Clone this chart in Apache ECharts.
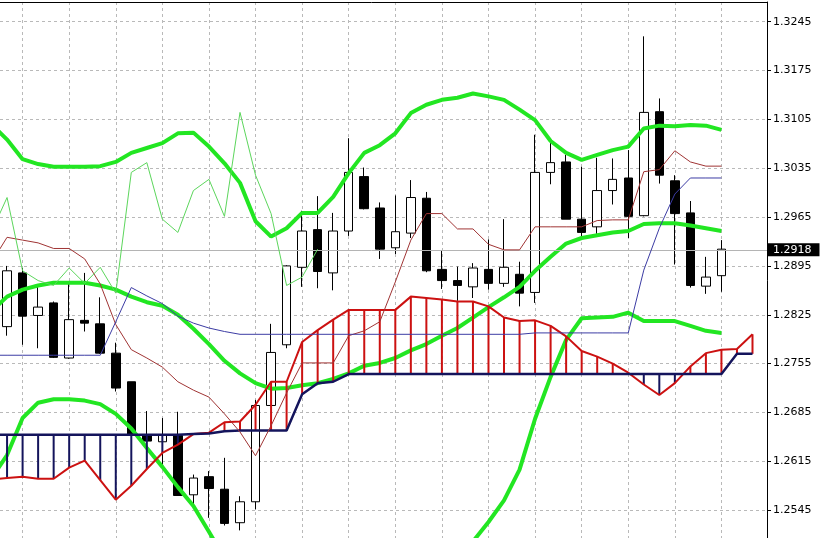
<!DOCTYPE html>
<html><head><meta charset="utf-8">
<script src="https://cdn.jsdelivr.net/npm/echarts@6/dist/echarts.min.js"></script>
<style>
html,body{margin:0;padding:0;background:#fff;width:820px;height:538px;overflow:hidden;position:relative}
#c{position:absolute;left:-24px;top:0;width:844px;height:559px}
</style>
</head><body><div id="c"></div>
<script>
// ---- candle data (bar 0 .. 46) ----
const openP  = [1.2808,1.2885,1.2824,1.2842,1.2763,1.2817,1.2812,1.2770,1.2729,1.2653,1.2643,1.2652,1.2567,1.2593,1.2575,1.2527,1.2557,1.2695,1.2782,1.2893,1.2947,1.2885,1.2945,1.3023,1.2978,1.2921,1.2942,1.2992,1.2890,1.2874,1.2865,1.2890,1.2870,1.2883,1.2857,1.3029,1.3044,1.2962,1.2951,1.3003,1.3021,1.2967,1.3116,1.3017,1.2971,1.2866,1.2881];
const closeP = [1.2888,1.2823,1.2836,1.2764,1.2818,1.2813,1.2770,1.2720,1.2653,1.2644,1.2652,1.2566,1.2591,1.2576,1.2526,1.2557,1.2695,1.2771,1.2895,1.2945,1.2887,1.2945,1.3029,1.2977,1.2919,1.2944,1.2993,1.2888,1.2874,1.2867,1.2892,1.2870,1.2893,1.2856,1.3029,1.3043,1.2962,1.2943,1.3003,1.3019,1.2966,1.3115,1.3025,1.2970,1.2867,1.2879,1.2919];
const lowP   = [1.2795,1.2782,1.2777,1.2763,1.2762,1.2801,1.2769,1.2715,1.2653,1.2643,1.2607,1.2566,1.2551,1.2534,1.2523,1.2516,1.2546,1.2694,1.2777,1.2865,1.2863,1.2860,1.2938,1.2976,1.2905,1.2912,1.2935,1.2886,1.2862,1.2845,1.2849,1.2861,1.2865,1.2837,1.2842,1.3012,1.2962,1.2936,1.2941,1.2983,1.2935,1.2966,1.3013,1.2897,1.2864,1.2855,1.2858];
const highP  = [1.2895,1.2892,1.2865,1.2844,1.2869,1.2885,1.2850,1.2785,1.2729,1.2687,1.2677,1.2686,1.2596,1.2601,1.2620,1.2565,1.2703,1.2812,1.2896,1.2974,1.2995,1.2971,1.3078,1.3036,1.2986,1.2996,1.3018,1.3001,1.2917,1.2894,1.2899,1.2933,1.2962,1.2901,1.3083,1.3071,1.3054,1.3037,1.3050,1.3049,1.3061,1.3224,1.3135,1.3025,1.2988,1.2908,1.2932];

// ---- indicator lines (start one bar earlier, at bar -1, so they reach the left edge) ----
const indStart = -1;
const bbUpper  = [1.3098,1.3076,1.3048,1.3041,1.3037,1.3037,1.3037,1.3038,1.3044,1.3057,1.3064,1.3071,1.3085,1.3086,1.3066,1.3042,1.3014,1.2959,1.2937,1.2949,1.2971,1.2971,1.2994,1.3028,1.3057,1.3068,1.3085,1.3114,1.3126,1.3133,1.3136,1.3142,1.3138,1.3133,1.3119,1.3104,1.3074,1.3057,1.3047,1.3054,1.3061,1.3066,1.3092,1.3096,1.3095,1.3097,1.3096,1.3090];
const bbMiddle = [1.2830,1.2851,1.2861,1.2867,1.2871,1.2871,1.2871,1.2867,1.2861,1.2851,1.2843,1.2838,1.2825,1.2805,1.2783,1.2759,1.2741,1.2727,1.2719,1.2720,1.2724,1.2727,1.2733,1.2741,1.2752,1.2756,1.2763,1.2774,1.2783,1.2795,1.2806,1.2821,1.2836,1.2850,1.2865,1.2888,1.2908,1.2927,1.2935,1.2939,1.2943,1.2945,1.2955,1.2956,1.2956,1.2953,1.2949,1.2945];
const bbLower  = [1.2591,1.2624,1.2677,1.2699,1.2704,1.2704,1.2702,1.2697,1.2683,1.2662,1.2634,1.2607,1.2578,1.2551,1.2514,1.2476,1.2469,1.2496,1.2501,1.2491,1.2477,1.2484,1.2472,1.2454,1.2447,1.2444,1.2441,1.2434,1.2441,1.2457,1.2476,1.2500,1.2528,1.2559,1.2603,1.2676,1.2736,1.2789,1.2820,1.2821,1.2822,1.2828,1.2816,1.2816,1.2816,1.2809,1.2802,1.2799];
const tenkan = [1.2900,1.2936,1.2932,1.2928,1.2920,1.2920,1.2905,1.2869,1.2811,1.2775,1.2763,1.2750,1.2729,1.2717,1.2707,1.2683,1.2657,1.2623,1.2666,1.2713,1.2756,1.2756,1.2756,1.2795,1.2802,1.2815,1.2872,1.2932,1.2970,1.2970,1.2948,1.2948,1.2926,1.2918,1.2918,1.2951,1.2951,1.2951,1.2951,1.2960,1.2961,1.2961,1.3030,1.3033,1.3060,1.3044,1.3038,1.3038];
const kijun  = [1.2767,1.2767,1.2767,1.2767,1.2767,1.2767,1.2767,1.2767,1.2815,1.2864,1.2852,1.2841,1.2823,1.2813,1.2806,1.2801,1.2797,1.2797,1.2797,1.2797,1.2797,1.2797,1.2797,1.2797,1.2797,1.2797,1.2797,1.2797,1.2797,1.2797,1.2797,1.2797,1.2797,1.2797,1.2797,1.2799,1.2799,1.2799,1.2799,1.2799,1.2799,1.2799,1.2889,1.2949,1.2998,1.3021,1.3021,1.3021];
const spanA  = [1.2589,1.2591,1.2593,1.2590,1.2590,1.2606,1.2616,1.2588,1.2560,1.2580,1.2604,1.2627,1.2639,1.2654,1.2656,1.2671,1.2672,1.2696,1.2729,1.2729,1.2786,1.2803,1.2818,1.2832,1.2832,1.2832,1.2832,1.2851,1.2849,1.2847,1.2844,1.2844,1.2837,1.2821,1.2816,1.2817,1.2809,1.2794,1.2773,1.2765,1.2755,1.2742,1.2725,1.2710,1.2727,1.2751,1.2770,1.2775,1.2776,1.2797];
const spanB  = [1.2653,1.2653,1.2653,1.2653,1.2653,1.2653,1.2653,1.2653,1.2653,1.2653,1.2653,1.2653,1.2653,1.2654,1.2655,1.2658,1.2659,1.2659,1.2659,1.2659,1.2711,1.2727,1.2729,1.2740,1.2740,1.2740,1.2740,1.2740,1.2740,1.2740,1.2740,1.2740,1.2740,1.2740,1.2740,1.2740,1.2740,1.2740,1.2740,1.2740,1.2740,1.2740,1.2740,1.2740,1.2740,1.2740,1.2740,1.2740,1.2769,1.2769];
const chikouShift = 26;
const lastPrice = 1.2918;
const yInterval = 0.007;   // price labels 1.2545 ... 1.3245
const xGridEvery = 3;      // vertical grid every 3 bars

const FONT = 'DejaVu Sans';
const idx = (a, s) => a.map((v, i) => [i + s, v]);
const candles = openP.map((o, i) => [i, o, closeP[i], lowP[i], highP[i]]);
const chikou = idx(closeP.slice(chikouShift + indStart), indStart);
const cloud = spanA.map((a, i) => [i + indStart, a, spanB[i]]);
const gridLine = { show: true, lineStyle: { color: '#b9b9b9', type: [3, 3], width: 1 } };
const RED = '#cc1111', NAVY = '#14145c';

function lineSeries(data, color, width, z) {
  return { type: 'line', data: idx(data, indStart), showSymbol: false, symbol: 'none', silent: true,
    lineStyle: { color, width }, z };
}

const chart = echarts.init(document.getElementById('c'));
chart.setOption({
  animation: false,
  backgroundColor: '#ffffff',
  grid: { left: 0, right: 53, top: 2, bottom: 0, containLabel: false },
  xAxis: { type: 'value', min: -2, max: 48.934, interval: xGridEvery, position: 'top',
    axisLine: { show: true, onZero: false, lineStyle: { color: '#000', width: 1 } },
    axisTick: { show: false }, axisLabel: { show: false }, splitLine: gridLine },
  yAxis: { type: 'value', position: 'right', min: 1.2475, max: 1.32732, interval: yInterval,
    axisLine: { show: true, onZero: false, lineStyle: { color: '#000', width: 1 } },
    axisTick: { show: true, length: 4, lineStyle: { color: '#000' } },
    axisLabel: { color: '#000', fontFamily: FONT, fontSize: 11, margin: 6,
      showMaxLabel: false, showMinLabel: false, formatter: v => v.toFixed(4) },
    splitLine: gridLine },
  series: [
    { type: 'line', data: idx(closeP, 0), showSymbol: false, symbol: 'none', silent: true,
      lineStyle: { opacity: 0, width: 0 }, z: 1,
      markLine: { silent: true, symbol: ['none', 'none'], animation: false, precision: 4,
        lineStyle: { color: '#b4b4b4', type: 'solid', width: 1 },
        label: { show: true, position: 'end', distance: 1, formatter: lastPrice.toFixed(4),
          color: '#fff', backgroundColor: '#000', padding: [1, 8, 0, 5], lineHeight: 12,
          fontFamily: FONT, fontSize: 11 },
        data: [{ yAxis: lastPrice }] } },
    { type: 'candlestick', data: candles, encode: { x: 0, y: [1, 2, 3, 4] }, barWidth: 9, z: 2,
      itemStyle: { color: '#ffffff', color0: '#000000', borderColor: '#000000', borderColor0: '#000000',
        borderColorDoji: '#000000', borderWidth: 1 } },
    lineSeries(bbUpper, '#22e622', 4, 3),
    lineSeries(bbMiddle, '#22e622', 4, 3),
    lineSeries(bbLower, '#22e622', 4, 3),
    { type: 'custom', data: cloud, encode: { x: 0, y: [1, 2] }, z: 4, silent: true,
      renderItem: (params, api) => {
        const i = api.value(0), a = api.value(1), b = api.value(2);
        const p1 = api.coord([i, a]), p2 = api.coord([i, b]);
        return { type: 'line', shape: { x1: p1[0], y1: p1[1], x2: p2[0], y2: p2[1] },
          style: { stroke: a >= b ? RED : NAVY, lineWidth: 2 } };
      } },
    lineSeries(spanA, RED, 2, 5),
    lineSeries(spanB, NAVY, 2.5, 5),
    lineSeries(tenkan, '#a03434', 1, 6),
    lineSeries(kijun, '#3c3ca4', 1, 6),
    { type: 'line', data: chikou, showSymbol: false, symbol: 'none', silent: true,
      lineStyle: { color: '#5cd65c', width: 1 }, z: 6 }
  ]
});
</script></body></html>
